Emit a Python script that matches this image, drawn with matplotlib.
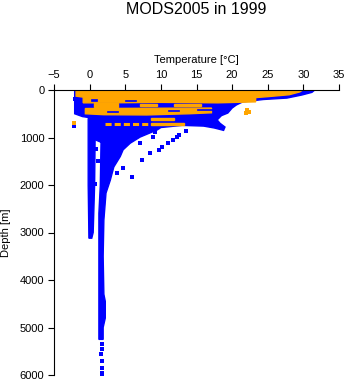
import matplotlib
matplotlib.use("Agg")
import matplotlib.pyplot as plt

# ---- data (temperature in degC, depth in m) ----
# envelope of the dense blue cloud (all profiles)
blue_env_t = [-2.1, 31.6, 31.2, 29.8, 27.7, 24.4, 21.5, 20.6, 20.0, 19.4, 18.5,
              17.9, 18.3, 19.0, 18.8, 17.5, 16.0, 13.0, 10.0, 9.5, 7.1, 5.7,
              4.7, 4.3, 3.4, 2.9, 2.3, 2.0, 1.9, 2.0, 2.2, 2.2, 1.9, 1.9, 1.3,
              1.3, 1.5, 1.6, 0.8, 0.8, -1.0, -2.1]
blue_env_d = [0, 0, 50, 105, 170, 200, 250, 315, 380, 485, 540,
              630, 700, 780, 850, 800, 760, 745, 790, 840, 990, 1120,
              1260, 1400, 1620, 1900, 2170, 2740, 3500, 4300, 4450, 4800, 5000,
              5250, 5250, 2600, 2000, 1100, 1050, 600, 560, 500]

# separate column of profiles near 0 degC
col_t = [-0.2, 0.8, 0.7, 0.5, 0.3, -0.1, -0.2]
col_d = [600, 600, 2000, 3000, 3120, 3120, 2000]

# orange (selected year) layers
orange_top_t = [-1.9, 29.9, 29.5, 28.0, 25.0, 23.3, 23.3, 18.0, 10.0, 3.0, -0.9, -0.9, -1.9]
orange_top_d = [0, 0, 40, 100, 140, 160, 250, 270, 260, 270, 270, 150, 130]
orange_mid1_t = [0.6, 4.0, 4.0, 0.6]
orange_mid1_d = [280, 280, 360, 360]
orange_mid2_t = [7.0, 9.5, 9.5, 7.0]
orange_mid2_d = [285, 285, 330, 330]
orange_mid3_t = [11.9, 15.7, 15.7, 11.9]
orange_mid3_d = [290, 290, 330, 330]
orange_band_t = [-0.6, 17.1, 17.1, 14.0, 8.0, 2.0, -0.6]
orange_band_d = [390, 380, 480, 500, 525, 520, 500]
orange_low_t = [8.6, 11.9, 11.9, 8.6]
orange_low_d = [580, 580, 640, 640]
orange_deep_t = [8.6, 13.3, 13.3, 8.6]
orange_deep_d = [690, 690, 740, 740]
orange_dash_t = [2.2, 8.6]
orange_dash_d = [715, 715]

# blue patches inside the upper layers
patch_t = [[0.2, 1.1, 1.1, 0.2], [5.0, 6.5, 6.5, 5.0], [11.0, 12.5, 12.5, 11.0],
           [15.0, 17.5, 17.5, 15.0], [2.5, 4.0, 4.0, 2.5]]
patch_d = [[180, 180, 240, 240], [200, 200, 230, 230], [420, 420, 450, 450],
           [400, 400, 430, 430], [440, 440, 470, 470]]

# surface observations
surf_t = [3.0, 31.6]
surf_d = [0, 0]

# scattered single observations
blue_pts_t = [9.2, 8.9, 11.7, 12.2, 12.5, 13.5, 11.0, 10.2, 9.7, 8.5, 7.3, 7.1,
              6.0, 4.7, 3.9, 1.7, 0.9, 1.2, 0.8, -2.0, -1.8, -2.2,
              1.7, 1.7, 1.6, 1.7, 1.8, 1.8, 1.7]
blue_pts_d = [880, 990, 1050, 990, 950, 860, 1110, 1200, 1260, 1330, 1470, 1120,
              1830, 1640, 1750, 1070, 1240, 1490, 1980, 190, 400, 750,
              5350, 5450, 5550, 5700, 5850, 5950, 5990]
orange_pts_t = [22.1, 22.3, 22.0, -2.2]
orange_pts_d = [420, 460, 485, 700]

xticks = [-5, 0, 5, 10, 15, 20, 25, 30, 35]
yticks = [0, 1000, 2000, 3000, 4000, 5000, 6000]

blue = "#0000ff"
orange = "#ffa500"

plt.rcParams["font.family"] = ["Liberation Sans", "DejaVu Sans"]

fig = plt.figure(figsize=(3.48, 3.84), dpi=100)
ax = fig.add_axes([54 / 348, 1 - 375 / 384, 285 / 348, 285 / 384])

# blue cloud
ax.fill(blue_env_t, blue_env_d, color=blue, lw=1)
ax.fill(col_t, col_d, color=blue, lw=1)
ax.plot(blue_pts_t, blue_pts_d, "s", color=blue, ms=2.2, mew=0)

# orange layers on top
for t, d in [(orange_top_t, orange_top_d), (orange_mid1_t, orange_mid1_d),
             (orange_mid2_t, orange_mid2_d), (orange_mid3_t, orange_mid3_d),
             (orange_band_t, orange_band_d), (orange_low_t, orange_low_d),
             (orange_deep_t, orange_deep_d)]:
    ax.fill(t, d, color=orange, lw=1)
ax.plot(orange_dash_t, orange_dash_d, color=orange, lw=2.2, dashes=(2, 1))
ax.plot(orange_pts_t, orange_pts_d, "s", color=orange, ms=2.2, mew=0)

for t, d in zip(patch_t, patch_d):
    ax.fill(t, d, color=blue, lw=0.5)
ax.plot(surf_t, surf_d, color=blue, lw=1.2)

ax.set_xlim(-5, 35)
ax.set_ylim(6000, 0)
ax.set_xticks(xticks)
ax.set_yticks(yticks)
ax.xaxis.tick_top()
ax.xaxis.set_label_position("top")
for side in ["right", "bottom"]:
    ax.spines[side].set_visible(False)
for side in ["top", "left"]:
    ax.spines[side].set_linewidth(0.8)
ax.tick_params(direction="out", length=4, width=0.8, labelsize=8, pad=3)
ax.set_xlabel("Temperature [°C]", fontsize=8, labelpad=5)
ax.set_ylabel("Depth [m]", fontsize=8, labelpad=6)
ax.set_title("MODS2005 in 1999", fontsize=11.5, pad=55)

fig.savefig("out.png", dpi=100)
